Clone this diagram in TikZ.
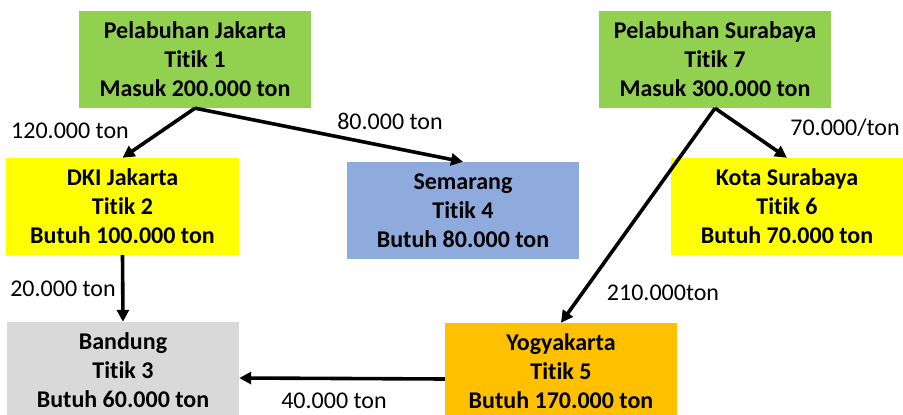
\documentclass[tikz,border=0pt]{standalone}
\usepackage{fontspec}
\setmainfont{Carlito}[Ligatures=NoCommon]
\usetikzlibrary{arrows.meta}
\definecolor{portgreen}{HTML}{92D050}
\definecolor{cityyellow}{HTML}{FFFF00}
\definecolor{cityblue}{HTML}{8FAADC}
\definecolor{citygray}{HTML}{D9D9D9}
\definecolor{cityorange}{HTML}{FFC000}
\tikzset{
  place/.style={minimum width=232pt, minimum height=97pt, inner sep=0pt,
    align=center, font=\fontsize{24}{29}\selectfont\bfseries},
  flow/.style={line width=3.6pt, -{Triangle[length=12pt,width=12pt]}},
  qty/.style={font=\fontsize{24}{29}\selectfont, inner sep=0pt}
}
\begin{document}
\begin{tikzpicture}[x=1pt,y=-1pt]
\useasboundingbox (0,0) rectangle (903,415);
\fill[white] (0,0) rectangle (903,415);

% ports and cities
\node[place, fill=portgreen] (t1) at (195,59.5) {Pelabuhan Jakarta\\Titik 1\\Masuk 200.000 ton};
\node[place, fill=portgreen] (t7) at (715,59.5) {Pelabuhan Surabaya\\Titik 7\\Masuk 300.000 ton};
\node[place, fill=cityyellow, minimum width=233pt] (t2) at (122.5,206.5) {DKI Jakarta\\Titik 2\\Butuh 100.000 ton};
\node[place, fill=cityblue] (t4) at (463,210.5) {Semarang\\Titik 4\\Butuh 80.000 ton};
\node[place, fill=cityyellow] (t6) at (787,206.5) {Kota Surabaya\\Titik 6\\Butuh 70.000 ton};
\node[place, fill=citygray, minimum height=96pt] (t3) at (123,370) {Bandung\\Titik 3\\Butuh 60.000 ton};
\node[place, fill=cityorange, minimum height=96pt] (t5) at (561,371) {Yogyakarta\\Titik 5\\Butuh 170.000 ton};

% shipments
\draw[flow] (t1.south) -- (t2.north);
\draw[flow] (t1.south) -- (t4.north);
\draw[flow] (t7.south) -- (t6.north);
\draw[flow] (t7.south) -- (t5.north);
\draw[flow] (t2.south) -- (t3.north);
\draw[flow] ([yshift=-8pt]t5.west) -- ([yshift=-8pt]t3.east);

% shipment quantities
\node[qty] (q12) at (70,131) {120.000 ton};
\node[qty] (q14) at (390,121) {80.000 ton};
\node[qty] (q76) at (845,128) {70.000/ton};
\node[qty] (q23) at (63,289) {20.000 ton};
\node[qty] (q75) at (663,293) {210.000ton};
\node[qty] (q53) at (334,401) {40.000 ton};
\end{tikzpicture}
\end{document}
